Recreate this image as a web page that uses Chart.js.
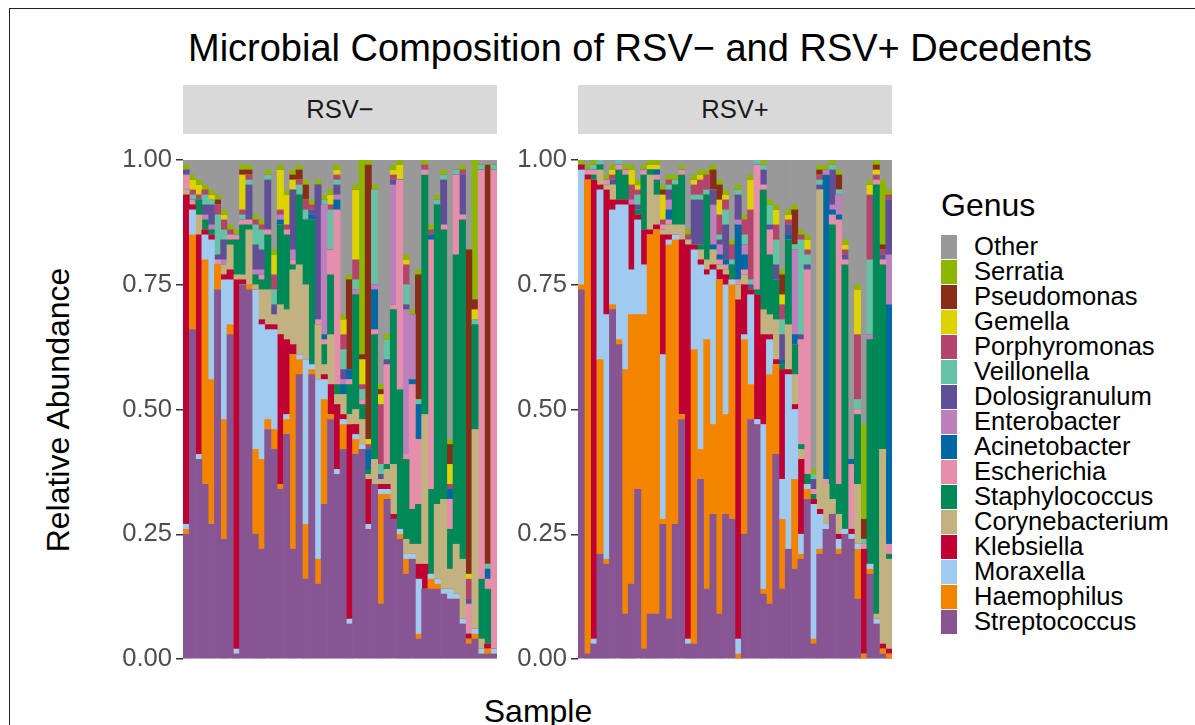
<!DOCTYPE html>
<html>
<head>
<meta charset="utf-8">
<script src="https://cdn.jsdelivr.net/npm/chart.js@4/dist/chart.umd.min.js"></script>
<style>
  body { margin: 0; width: 1195px; height: 725px; overflow: hidden; background: #fff;
         font-family: 'Liberation Sans', Arial, Helvetica, sans-serif; position: relative; }
  .abs { position: absolute; }
  #frame { left: 9px; top: 8px; width: 1400px; height: 900px; border: 1.5px solid #222; box-sizing: border-box; }
  #title { left: 90px; width: 1100px; top: 28px; text-align: center; font-size: 38px; line-height: 40px; color: #000; }
  .strip { top: 85px; width: 314px; height: 49px; background: #d9d9d9; color: #1a1a1a;
           font-size: 25.6px; line-height: 49px; text-align: center; }
  #ytitle { left: 58px; top: 410px; font-size: 32px; color: #000; white-space: nowrap;
            transform: translate(-50%, -50%) rotate(-90deg); }
  #xtitle { left: 438px; width: 200px; top: 693px; text-align: center; font-size: 32px; color: #000; }
  #legend { left: 941px; top: 187px; }
  #legend .ttl { font-size: 32px; line-height: 36px; height: 47px; color: #000; }
  #legend .row { height: 25px; display: flex; align-items: center; }
  #legend .key { width: 16px; height: 24px; margin-right: 17px; }
  #legend .lab { font-size: 25.6px; color: #000; white-space: nowrap; }
</style>
</head>
<body>
<div id="frame" class="abs"></div>
<div id="title" class="abs">Microbial Composition of RSV&#8722; and RSV+ Decedents</div>
<div class="abs strip" style="left:183px">RSV&#8722;</div>
<div class="abs strip" style="left:578px">RSV+</div>
<canvas id="neg" class="abs" width="397" height="539" style="left:100px;top:140px"></canvas>
<canvas id="pos" class="abs" width="397" height="539" style="left:495px;top:140px"></canvas>
<div id="ytitle" class="abs">Relative Abundance</div>
<div id="xtitle" class="abs">Sample</div>
<div id="legend" class="abs"></div>
<script>
// genera, stacked from the bottom up
const genera = ['Streptococcus', 'Haemophilus', 'Moraxella', 'Klebsiella', 'Corynebacterium',
  'Staphylococcus', 'Escherichia', 'Acinetobacter', 'Enterobacter', 'Dolosigranulum',
  'Veillonella', 'Porphyromonas', 'Gemella', 'Pseudomonas', 'Serratia', 'Other'];
const genusColors = ['#875692', '#F38400', '#A1CAF1', '#BE0032', '#C2B280',
  '#008856', '#E68FAC', '#0067A5', '#BC80BD', '#604E97',
  '#66C2A5', '#B3446C', '#DCD300', '#882D17', '#8DB600', '#999999'];

const yTicks = [0, 25, 50, 75, 100]; // percent

// RSV- samples (percent of reads)
const negStrep  = [25,66,40,35,27,74,24,65,1,75, 74,25,22,46,42,34,45,22,57,16, 57,15,31,48,37,42,7,41,42,26, 35,11,32,28,24,17,20,4,14,14, 14,13,12,12,7,3,4,1,1,1];
const negHaemo  = [1,19,0,45,29,5,24,2,0,0, 1,17,18,2,4,1,3,39,3,11, 1,5,21,1,0,5,0,3,0,0, 0,22,1,0,1,3,0,1,0,2, 1,0,0,0,0,1,1,0,1,0];
const negMorax  = [1,5,1,5,28,0,28,9,1,0, 0,32,27,18,20,0,1,0,1,33, 1,36,4,0,1,1,1,1,1,1, 0,1,1,0,1,1,1,11,0,1, 1,1,2,1,1,0,1,1,0,1];
const negKleb   = [66,1,44,1,1,0,1,2,74,1, 0,0,1,1,1,30,15,2,0,0, 0,0,1,6,13,1,39,2,0,9, 0,1,1,1,0,0,0,3,5,0, 0,0,0,0,0,1,0,0,1,0];
const negCoryne = [1,0,4,0,0,0,2,5,1,1, 11,1,6,7,2,6,6,15,18,15, 0,11,2,10,2,4,2,3,5,1, 5,1,3,10,0,3,2,4,30,0, 15,18,4,10,12,0,40,2,0,0];
const negStaph  = [0,0,3,2,1,0,0,1,7,10, 1,2,2,11,0,16,15,1,14,13, 29,0,4,12,2,0,6,23,3,1, 25,0,1,31,28,16,7,8,48,17, 60,54,8,58,68,0,21,12,11,0];
const negEsch   = [3,1,0,0,0,1,0,1,1,1, 1,0,1,1,0,0,1,1,0,0, 0,1,1,5,35,0,1,0,1,0, 1,0,20,1,42,1,25,13,1,50, 0,1,6,16,1,6,0,82,2,96];
const negAcine  = [0,0,0,0,0,0,0,0,0,0, 0,0,0,0,0,1,0,0,0,0, 1,0,1,0,2,2,2,0,0,4, 8,0,0,0,0,0,1,7,0,1, 0,0,2,0,0,0,0,0,2,0];
const negEntero = [0,0,0,1,1,0,1,0,0,0, 0,1,1,0,0,1,0,2,0,0, 0,0,26,0,1,1,0,1,0,0, 1,0,0,24,0,29,13,0,0,0, 0,0,0,0,0,0,0,0,0,0];
const negDolo   = [1,0,0,2,4,1,4,0,0,0, 7,5,4,10,2,0,0,12,0,0, 1,27,0,0,2,2,0,0,0,0, 0,1,1,1,0,1,0,0,0,0, 0,9,0,0,8,1,0,0,0,0];
const negVeill  = [0,1,0,2,1,8,2,0,0,1, 1,4,4,1,3,0,0,0,2,2, 0,0,1,8,1,4,0,2,2,0, 19,2,4,0,0,4,0,1,0,0, 1,1,0,1,0,0,1,1,1,1];
const negPorph  = [0,1,1,1,0,2,2,1,0,1, 1,1,1,0,3,1,1,0,1,2, 1,0,0,1,1,3,0,4,1,1, 0,12,0,1,0,4,0,0,1,1, 0,0,1,0,1,4,0,0,0,0];
const negGemel  = [0,2,2,0,1,0,1,0,0,7, 0,0,0,0,4,8,6,2,0,0, 0,0,0,2,1,3,0,14,5,1, 0,2,0,1,3,1,0,0,0,0, 0,0,4,0,0,1,2,0,0,0];
const negPseudo = [0,0,0,0,0,1,0,0,0,1, 1,0,0,0,0,0,0,1,2,3, 0,0,0,0,0,0,18,0,1,55, 0,1,0,0,0,0,0,25,0,0, 0,0,4,0,0,65,2,0,80,0];
const negSerra  = [1,1,1,1,1,1,1,1,1,1, 1,1,1,1,1,1,1,1,1,1, 1,1,1,1,1,1,1,1,39,1, 1,1,1,1,1,1,1,1,1,1, 1,1,1,0,1,0,28,0,0,0];
const negOther  = [1,3,4,5,6,7,10,13,14,1, 1,11,12,2,18,1,6,2,1,4, 8,4,7,6,1,31,23,5,0,0, 5,45,35,1,0,19,30,22,0,13, 7,2,56,2,1,18,0,1,1,1];

// RSV+ samples (percent of reads)
const posStrep  = [74,1,3,21,19,70,63,9,15,34, 2,9,9,27,8,27,48,3,3,36, 14,29,9,29,28,0,25,48,47,13, 11,41,14,22,18,20,32,3,21,26, 29,21,25,24,12,0,17,7,1,0];
const posHaemo  = [1,95,0,39,1,1,1,49,54,35, 67,76,77,1,75,57,1,0,59,6, 50,18,67,20,47,1,39,7,0,1, 46,18,14,0,18,1,2,1,1,0, 0,1,0,0,10,1,1,0,1,1];
const posMorax  = [23,0,1,34,49,19,27,33,9,19, 10,0,0,33,1,1,0,1,20,37, 13,31,0,26,1,3,1,18,1,33, 7,0,8,35,14,4,1,27,7,1, 0,2,1,1,1,0,1,1,0,0];
const posKleb   = [1,1,92,1,25,2,1,1,13,1, 7,1,1,24,1,0,35,79,1,1, 1,1,2,2,0,68,10,1,25,18, 1,1,22,1,1,15,0,1,1,0, 0,1,0,1,0,21,0,0,1,1];
const posCoryne = [0,0,0,3,1,3,0,0,0,0, 0,11,6,1,2,2,3,1,0,2, 2,3,1,1,0,3,2,0,0,5, 4,8,0,9,6,2,0,0,64,8, 3,4,0,0,12,0,0,1,39,18];
const posStaph  = [0,0,1,1,0,0,6,5,0,1, 11,1,3,0,0,8,10,0,0,1, 13,0,0,0,3,0,0,0,1,24, 12,8,1,17,6,1,2,1,0,0, 55,6,53,0,14,0,45,86,37,1];
const posEsch   = [0,1,1,0,1,0,1,1,0,0, 1,0,1,1,1,0,1,0,0,0, 0,0,1,1,0,1,1,0,25,1, 5,0,0,0,0,21,41,1,0,1, 2,53,1,13,1,1,0,1,1,2];
const posAcine  = [0,0,0,0,0,0,0,0,0,0, 0,0,1,0,2,0,0,0,0,0, 0,1,1,1,0,11,3,0,0,0, 0,0,1,1,2,0,0,0,0,61, 1,1,0,1,0,0,0,0,0,48];
const posEntero = [0,0,0,0,0,0,0,0,1,0, 0,0,0,0,2,0,0,0,0,0, 0,8,2,0,0,1,2,0,0,0, 0,0,0,0,17,0,0,0,0,1, 1,4,0,0,0,0,1,0,0,10];
const posDolo   = [0,0,0,0,0,1,0,0,0,1, 0,0,0,0,2,0,0,0,9,9, 0,3,1,7,0,5,0,1,0,3, 1,3,5,2,0,1,1,2,1,0, 7,0,1,0,0,0,0,0,1,11];
const posVeill  = [0,0,1,1,0,0,1,0,0,2, 0,0,0,0,1,1,0,0,1,1, 1,0,1,3,1,1,2,1,1,1, 4,5,3,0,1,19,2,1,1,0, 1,1,0,0,2,1,15,0,0,0];
const posPorph  = [0,0,0,0,0,1,0,0,3,1, 0,0,0,1,1,0,0,1,2,3, 3,0,4,2,3,0,3,14,0,0, 0,3,3,1,0,1,1,0,1,0, 0,0,1,0,13,0,13,1,1,1];
const posGemel  = [0,0,0,0,0,1,0,0,3,1, 0,1,1,5,0,0,0,0,1,1, 0,0,3,1,0,0,0,6,0,0, 0,3,2,1,0,0,2,0,0,0, 0,0,1,0,9,0,2,1,0,0];
const posPseudo = [0,0,0,0,0,0,0,0,0,0, 0,0,0,1,0,0,0,0,0,0, 0,4,3,0,0,0,0,0,0,0, 0,0,4,0,7,0,0,0,1,0, 0,3,0,0,0,4,0,1,1,0];
const posSerra  = [1,1,1,0,1,1,0,1,1,1, 1,1,1,1,1,1,1,1,1,1, 1,1,1,1,1,1,1,1,0,1, 1,1,1,1,1,1,1,1,1,1, 1,1,1,0,1,19,1,1,13,1];
const posOther  = [0,1,0,0,3,1,0,1,1,4, 1,0,0,5,3,3,1,14,3,2, 2,1,4,6,16,5,11,3,0,0, 8,9,22,10,9,14,15,62,1,1, 0,2,16,60,25,53,4,0,4,6];

const negSeries = [negStrep, negHaemo, negMorax, negKleb, negCoryne, negStaph, negEsch, negAcine,
  negEntero, negDolo, negVeill, negPorph, negGemel, negPseudo, negSerra, negOther];
const posSeries = [posStrep, posHaemo, posMorax, posKleb, posCoryne, posStaph, posEsch, posAcine,
  posEntero, posDolo, posVeill, posPorph, posGemel, posPseudo, posSerra, posOther];

const FONT = "'Liberation Sans', Arial, Helvetica, sans-serif";

function makePanel(canvasId, series, prefix) {
  const labels = series[0].map((_, i) => prefix + (i + 1));
  return new Chart(document.getElementById(canvasId), {
    type: 'bar',
    data: {
      labels: labels,
      datasets: genera.map((g, i) => ({
        label: g,
        data: series[i],
        backgroundColor: genusColors[i],
        borderWidth: 0,
        categoryPercentage: 1.0,
        barPercentage: 1.0
      }))
    },
    options: {
      responsive: false,
      animation: false,
      layout: { padding: { top: 20, bottom: 20, left: 0, right: 0 } },
      plugins: { legend: { display: false }, tooltip: { enabled: false } },
      scales: {
        x: { stacked: true, display: false },
        y: {
          stacked: true,
          min: 0,
          max: 100,
          afterFit(scale) { scale.width = 83; },
          afterBuildTicks(scale) { scale.ticks = yTicks.map(v => ({ value: v })); },
          ticks: {
            callback: v => (v / 100).toFixed(2),
            color: '#4d4d4d',
            font: { family: FONT, size: 25.6 },
            padding: 4
          },
          grid: { drawOnChartArea: false, drawTicks: true, tickLength: 7, color: '#333', lineWidth: 1.5 },
          border: { display: false }
        }
      }
    }
  });
}

makePanel('neg', negSeries, 'N');
makePanel('pos', posSeries, 'P');

// legend, top entry is the last stacked genus
const legend = document.getElementById('legend');
let html = '<div class="ttl">Genus</div>';
for (let i = genera.length - 1; i >= 0; i--) {
  html += '<div class="row"><div class="key" style="background:' + genusColors[i] + '"></div>' +
          '<div class="lab">' + genera[i] + '</div></div>';
}
legend.innerHTML = html;
</script>
</body>
</html>
